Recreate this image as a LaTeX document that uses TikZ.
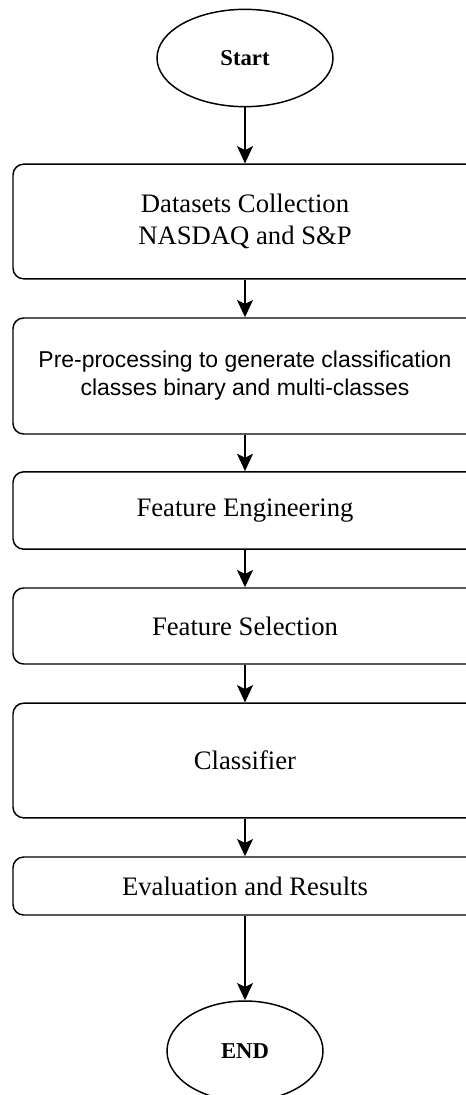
\documentclass[tikz,border=0pt]{standalone}
\usepackage{fontspec}
\setmainfont{Liberation Serif}
\newfontfamily\arialfont{Liberation Sans}
\usetikzlibrary{shapes.geometric,arrows.meta}

\tikzset{
  terminal/.style={draw,ellipse,line width=1.1pt,inner sep=0pt,
    font=\fontsize{17}{20}\selectfont\bfseries},
  stepbox/.style={draw,rectangle,rounded corners=8pt,line width=1.1pt,
    minimum width=348pt,align=center,inner sep=0pt,
    font=\fontsize{20}{24}\selectfont},
  flow/.style={-{Stealth[length=13pt,width=12pt,inset=3pt]},line width=1.1pt}
}

\begin{document}
\begin{tikzpicture}[x=0.75pt,y=-0.75pt]
\clip (0,0) rectangle (466,1095);
% start and end
\node[terminal,minimum width=132pt,minimum height=73pt] (start) at (245,58) {Start};
\node[terminal,minimum width=117pt,minimum height=75pt] (finish) at (245,1051) {END};
% process steps
\node[stepbox,minimum height=86pt] (collect) at (245,221.5) {Datasets Collection\\NASDAQ and S\&P};
\node[stepbox,minimum height=87pt,font=\arialfont\fontsize{17.2}{21}\selectfont] (prep) at (245,376) {Pre-processing to generate classification\\classes binary and multi-classes};
\node[stepbox,minimum height=58pt] (feng) at (245,510.5) {Feature Engineering};
\node[stepbox,minimum height=57pt] (fsel) at (245,626) {Feature Selection};
\node[stepbox,minimum height=86pt] (clf) at (245,760.5) {Classifier};
\node[stepbox,minimum height=43.5pt] (eval) at (245,886) {Evaluation and Results};
% arrows
\draw[flow] (start) -- (collect);
\draw[flow] (collect) -- (prep);
\draw[flow] (prep) -- (feng);
\draw[flow] (feng) -- (fsel);
\draw[flow] (fsel) -- (clf);
\draw[flow] (clf) -- (eval);
\draw[flow] (eval) -- (finish);
\end{tikzpicture}
\end{document}
